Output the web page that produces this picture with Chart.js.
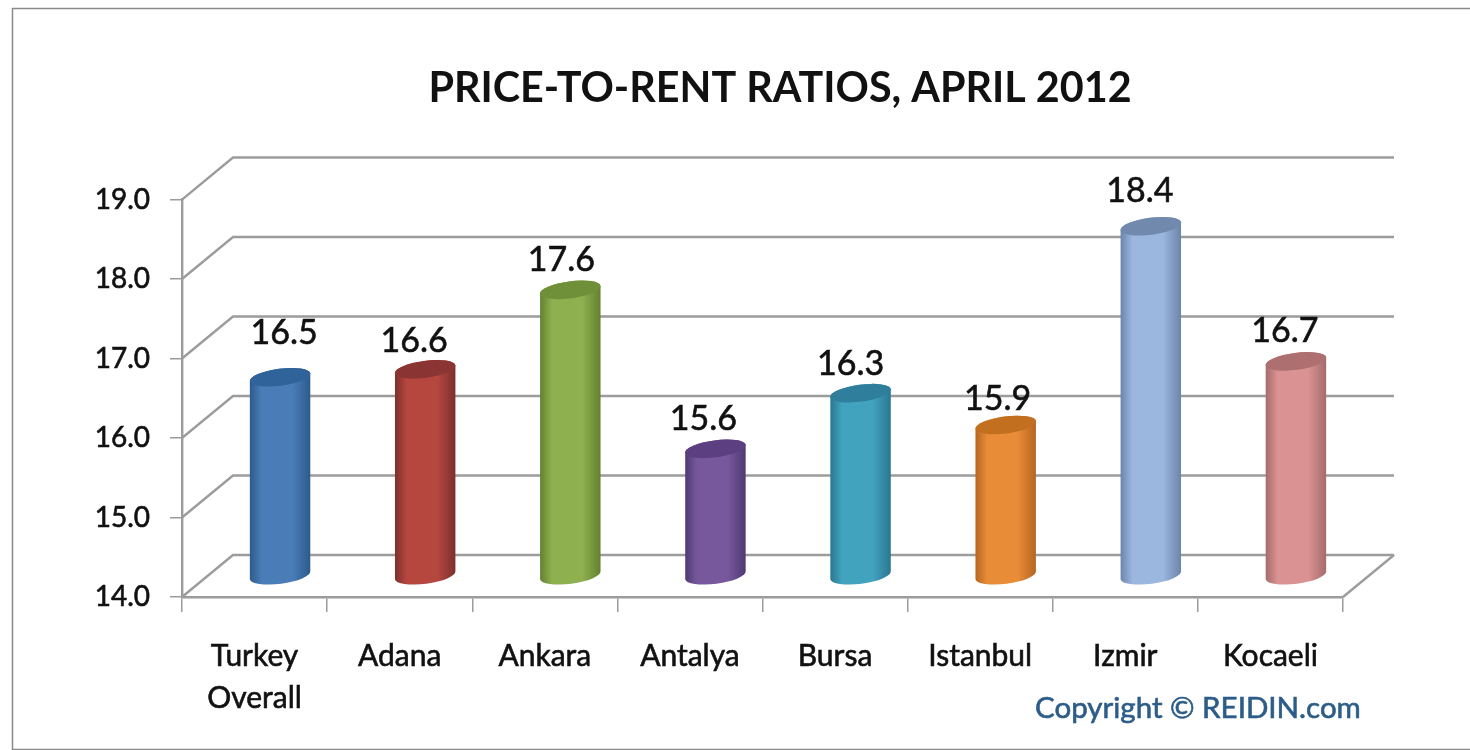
<!DOCTYPE html>
<html>
<head>
<meta charset="utf-8">
<title>Price-to-rent ratios, April 2012</title>
<script src="https://cdn.jsdelivr.net/npm/chart.js@4"></script>
<style>
  html, body { margin: 0; padding: 0; background: #fff; }
  canvas { display: block; filter: blur(0.45px); }
</style>
</head>
<body>
<canvas id="ratioChart" width="1470" height="750"></canvas>
<script>
// data
const categories = [['Turkey', 'Overall'], 'Adana', 'Ankara', 'Antalya', 'Bursa', 'Istanbul', 'Izmir', 'Kocaeli'];
const ratios = [16.5, 16.6, 17.6, 15.6, 16.3, 15.9, 18.4, 16.7];
const valueLabels = ['16.5', '16.6', '17.6', '15.6', '16.3', '15.9', '18.4', '16.7'];
const tickLabels = ['14.0', '15.0', '16.0', '17.0', '18.0', '19.0'];

// body colour, edge shade, top cap
const bodyColors = ['#4a7db8', '#b5473f', '#8fb04f', '#77589c', '#42a3bf', '#e98c38', '#9bb6df', '#da9292'];
const edgeColors = ['#2d5a8c', '#7c2f2c', '#62802f', '#4f3873', '#2a7690', '#b5651f', '#6b84aa', '#a56a6a'];
const capColors = ['#2f6399', '#8a3533', '#6f8f38', '#5b3f80', '#2f7f9c', '#c2701f', '#7089ad', '#ad6f70'];

// the labels sit a little off centre in the original, so nudge them by hand
const labelNudgeX = [4, -11, -9, -12, -10, -8, -11, -11];
const labelNudgeY = [-44, -28, -30, -30, -29, -26, -35, -30];

const DEPTH_X = 51;
const DEPTH_Y = 42;
const GRID_COLOR = '#9c9c9c';
const TEXT_COLOR = '#111';
const FONT = 'Lato, sans-serif';

function drawWalls(chart) {
    const { ctx, chartArea, scales } = chart;
    const { left, right, bottom } = chartArea;
    ctx.save();
    ctx.strokeStyle = GRID_COLOR;
    ctx.lineWidth = 2.4;
    scales.y.ticks.forEach(t => {
        const y = scales.y.getPixelForValue(t.value);
        ctx.beginPath();
        ctx.moveTo(left, y);
        ctx.lineTo(left + DEPTH_X, y - DEPTH_Y);
        ctx.lineTo(right + DEPTH_X, y - DEPTH_Y);
        ctx.stroke();
    });
    // floor edge on the right
    ctx.beginPath();
    ctx.moveTo(right, bottom);
    ctx.lineTo(right + DEPTH_X, bottom - DEPTH_Y);
    ctx.stroke();
    ctx.restore();
}

function drawCylinder(ctx, bar, i) {
    const cx = bar.x + DEPTH_X / 2;
    const topY = bar.y - DEPTH_Y / 2;
    const baseY = bar.base - DEPTH_Y / 2;
    const rx = bar.width / 2;
    const ry = 8.5;
    const tilt = -0.13;

    const grad = ctx.createLinearGradient(cx - rx, 0, cx + rx, 0);
    grad.addColorStop(0, edgeColors[i]);
    grad.addColorStop(0.2, bodyColors[i]);
    grad.addColorStop(0.7, bodyColors[i]);
    grad.addColorStop(1, edgeColors[i]);

    ctx.beginPath();
    ctx.ellipse(cx, baseY, rx, ry, tilt, 0, Math.PI);
    ctx.ellipse(cx, topY, rx, ry, tilt, Math.PI, Math.PI * 2);
    ctx.closePath();
    ctx.fillStyle = grad;
    ctx.fill();

    ctx.beginPath();
    ctx.ellipse(cx, topY, rx, ry, tilt, 0, Math.PI * 2);
    ctx.fillStyle = capColors[i];
    ctx.fill();
}

const look3d = {
    id: 'look3d',
    afterLayout(chart) {
        // title is not centred on the plot in the original
        chart.titleBlock.left = 380;
        chart.titleBlock.right = 1180;
    },
    beforeDraw(chart) {
        const { ctx } = chart;
        ctx.save();
        ctx.strokeStyle = '#8a8a8a';
        ctx.lineWidth = 1.5;
        ctx.strokeRect(12.5, 8.5, 1470, 741);
        ctx.restore();
    },
    beforeDatasetsDraw(chart) {
        drawWalls(chart);
    },
    beforeDatasetDraw(chart, args) {
        // swap the flat bars for cylinders, positions still come from the bar elements
        args.meta.data.forEach((bar, i) => drawCylinder(chart.ctx, bar, i));
        return false;
    },
    afterDatasetsDraw(chart) {
        const { ctx } = chart;
        const bars = chart.getDatasetMeta(0).data;
        ctx.save();
        ctx.textAlign = 'center';
        ctx.textBaseline = 'middle';
        ctx.fillStyle = TEXT_COLOR;
        ctx.strokeStyle = TEXT_COLOR;
        ctx.lineWidth = 0.6;
        ctx.font = '34px ' + FONT;
        bars.forEach((bar, i) => {
            const x = bar.x + DEPTH_X / 2 + labelNudgeX[i];
            const y = bar.y - DEPTH_Y / 2 + labelNudgeY[i];
            ctx.fillText(valueLabels[i], x, y);
            ctx.strokeText(valueLabels[i], x, y);
        });
        ctx.textAlign = 'left';
        ctx.fillStyle = '#2c5c88';
        ctx.strokeStyle = '#2c5c88';
        ctx.font = '29.5px ' + FONT;
        ctx.fillText('Copyright © REIDIN.com', 1035, 708);
        ctx.strokeText('Copyright © REIDIN.com', 1035, 708);
        ctx.restore();
    }
};

new Chart(document.getElementById('ratioChart'), {
    type: 'bar',
    data: {
        labels: categories,
        datasets: [{
            data: ratios,
            base: 14,
            backgroundColor: bodyColors,
            barPercentage: 0.42,
            categoryPercentage: 1
        }]
    },
    options: {
        responsive: false,
        animation: false,
        layout: { padding: { left: 0, right: 127, top: 0, bottom: 0 } },
        plugins: {
            legend: { display: false },
            tooltip: { enabled: false },
            title: {
                display: true,
                text: 'PRICE-TO-RENT RATIOS, APRIL 2012',
                color: TEXT_COLOR,
                font: { family: FONT, size: 41.3, weight: 'bold' },
                padding: { top: 64, bottom: 86 }
            }
        },
        scales: {
            x: {
                afterFit(scale) { scale.height = 153; },
                grid: { drawOnChartArea: false, color: GRID_COLOR, tickLength: 15, lineWidth: 1.5 },
                border: { color: GRID_COLOR, width: 2.4 },
                ticks: {
                    color: TEXT_COLOR,
                    textStrokeColor: TEXT_COLOR,
                    textStrokeWidth: 0.6,
                    padding: 23,
                    maxRotation: 0,
                    font: { family: FONT, size: 30, lineHeight: 1.4 }
                }
            },
            y: {
                min: 14,
                max: 19,
                afterFit(scale) { scale.width = 182; },
                grid: { drawOnChartArea: false, color: GRID_COLOR, tickLength: 12, lineWidth: 1.5 },
                border: { color: GRID_COLOR, width: 2.4 },
                ticks: {
                    stepSize: 1,
                    color: TEXT_COLOR,
                    textStrokeColor: TEXT_COLOR,
                    textStrokeWidth: 0.6,
                    padding: 20,
                    font: { family: FONT, size: 28 },
                    callback: (value, i) => tickLabels[i]
                }
            }
        }
    },
    plugins: [look3d]
});
</script>
</body>
</html>
